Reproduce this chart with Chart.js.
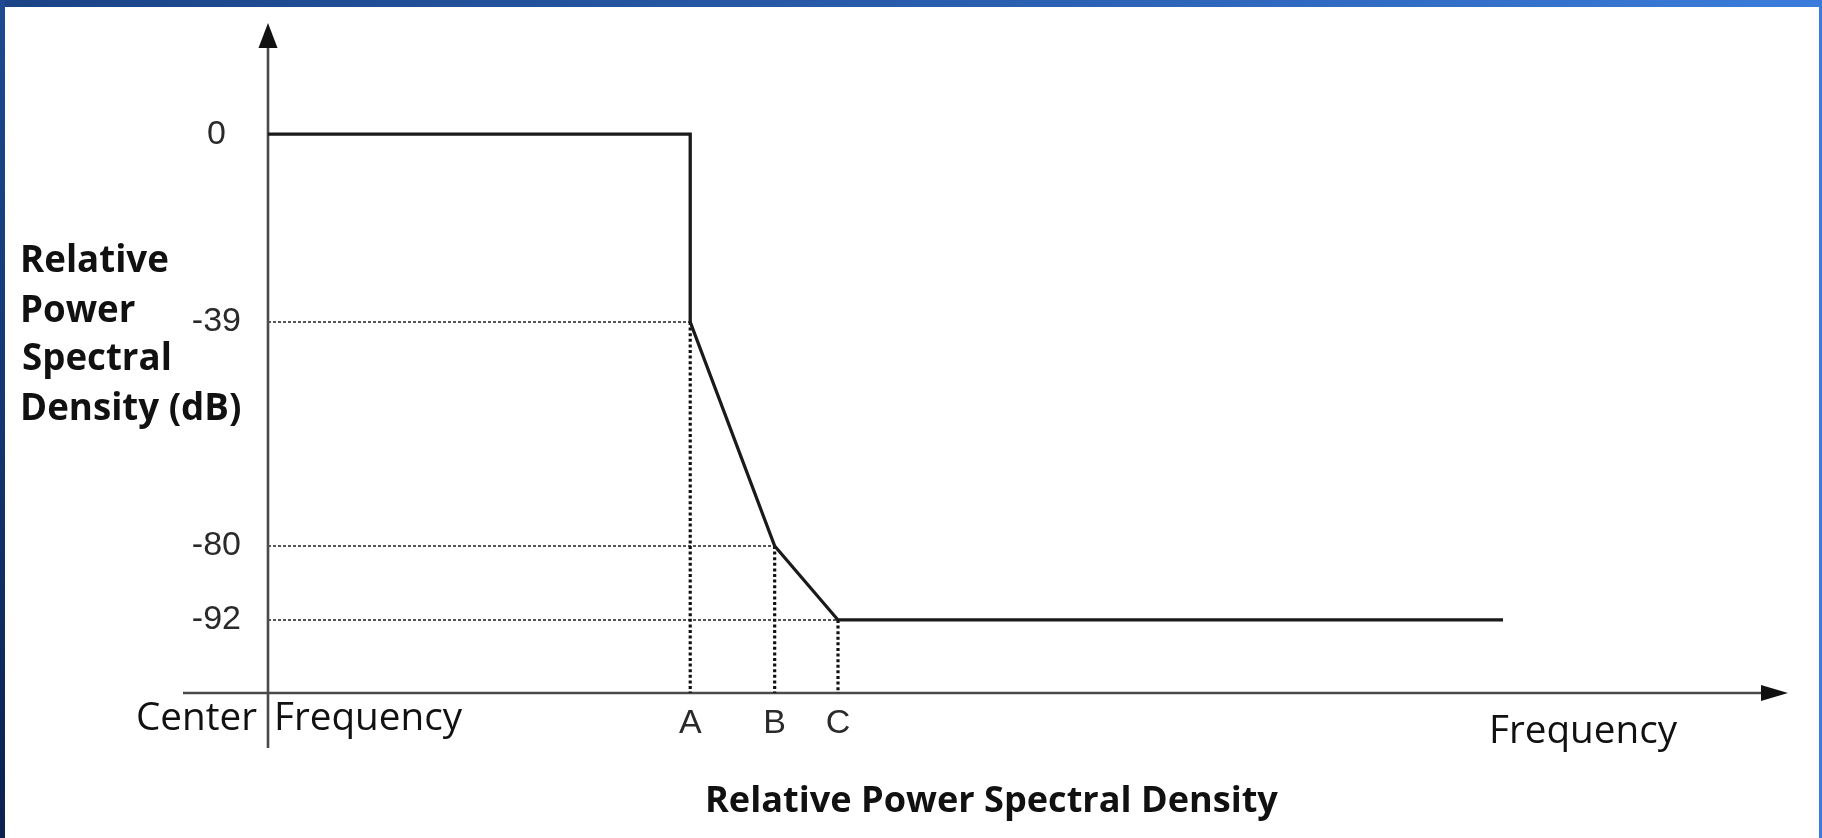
<!DOCTYPE html>
<html><head><meta charset="utf-8">
<script src="https://cdn.jsdelivr.net/npm/chart.js@4.4.1/dist/chart.umd.min.js"></script>
<style>
html,body{margin:0;padding:0;background:#fff;overflow:hidden}
#wrap{position:relative;width:1822px;height:838px;background:#fff}
#topband{position:absolute;left:0;top:0;width:1822px;height:7px;background:linear-gradient(90deg,#1b4386 0%,#2a5fb0 55%,#3b7cdb 100%)}
#leftband{position:absolute;left:0;top:0;width:5px;height:838px;background:linear-gradient(180deg,#1d4a92 0%,#0b2150 100%)}
#rightband{position:absolute;right:0;top:0;width:3px;height:838px;background:#3b7cdb}
canvas{position:absolute;left:0;top:0}
</style></head>
<body>
<div id="wrap"><div id="topband"></div><div id="leftband"></div><div id="rightband"></div>
<canvas id="c" width="1822" height="838" style="width:1822px;height:838px"></canvas></div>
<script>
// ---- data ----
const freqPoints = [0, 10, 10, 12, 13.5, 29.25];      // x (relative frequency units)
const levelDb    = [0, 0, -39, -80, -92, -92];        // relative PSD (dB)
const kneeFreq   = [10, 12, 13.5];                    // A, B, C
const kneeDb     = [-39, -80, -92];
const yTickValues = [0, -39, -80, -92];
const xTickValues = [10, 12, 13.5];
const xTickLabels = ['A', 'B', 'C'];
const yTitleLines = ['Relative', 'Power', 'Spectral', 'Density (dB)'];
const xTitle = 'Relative Power Spectral Density';
const originLabel = ['Center', 'Frequency'];
const xAxisName = 'Frequency';

const X_MIN = 0, X_MAX = 36, Y_MIN = -106, Y_MAX = 21;

// schematic (non-proportional) dB axis: piecewise-linear scale
class PiecewiseScale extends Chart.LinearScale {
  _frac(v) {
    const k = this.options.knots;
    if (v <= k[0][0]) return k[0][1];
    for (let i = 1; i < k.length; i++) {
      if (v <= k[i][0]) {
        const t = (v - k[i-1][0]) / (k[i][0] - k[i-1][0]);
        return k[i-1][1] + t * (k[i][1] - k[i-1][1]);
      }
    }
    return k[k.length-1][1];
  }
  getPixelForValue(v) {
    if (v === null || v === undefined || isNaN(v)) return NaN;
    return this.getPixelForDecimal(this._frac(v));
  }
  getValueForPixel(p) {
    const f = this.getDecimalForPixel(p);
    const k = this.options.knots;
    for (let i = 1; i < k.length; i++) {
      if (f <= k[i][1]) {
        const t = (f - k[i-1][1]) / (k[i][1] - k[i-1][1]);
        return k[i-1][0] + t * (k[i][0] - k[i-1][0]);
      }
    }
    return k[k.length-1][0];
  }
}
PiecewiseScale.id = 'piecewise';
PiecewiseScale.defaults = Chart.LinearScale.defaults;
Chart.register(PiecewiseScale);

const datasets = [{
  data: freqPoints.map((f, i) => ({x: f, y: levelDb[i]})),
  borderColor: '#1a1a1a', borderWidth: 3.3, pointRadius: 0, tension: 0, order: 0,
  borderJoinStyle: 'miter'
}];
kneeFreq.forEach((f, i) => {
  datasets.push({
    data: [{x: X_MIN, y: kneeDb[i]}, {x: f, y: kneeDb[i]}],
    borderColor: '#555555', borderWidth: 2, borderDash: [3, 2], pointRadius: 0, order: 2
  });
  datasets.push({
    data: [{x: f, y: kneeDb[i]}, {x: f, y: Y_MIN}],
    borderColor: '#111111', borderWidth: 3.2, borderDash: [3, 2.6], pointRadius: 0, order: 1
  });
});

function inkText(ctx, text, inkLeft, baseline) {
  const m = ctx.measureText(text);
  ctx.fillText(text, inkLeft + m.actualBoundingBoxLeft, baseline);
}
function fitSize(ctx, text, weight, family, target) {
  ctx.font = weight + ' 100px ' + family;
  const m = ctx.measureText(text);
  return 100 * target / (m.actualBoundingBoxLeft + m.actualBoundingBoxRight);
}
const SANS = '"Open Sans", "Noto Sans", sans-serif';

const decor = {
  id: 'decor',
  beforeDatasetsDraw(chart) {
    const {ctx, scales: {x, y}} = chart;
    const ox = x.getPixelForValue(0), oy = y.getPixelForValue(Y_MIN);
    const top = y.getPixelForValue(Y_MAX), right = x.getPixelForValue(X_MAX);
    ctx.save();
    ctx.strokeStyle = '#4a4a4a'; ctx.fillStyle = '#111';
    ctx.lineWidth = 2.6;
    ctx.beginPath();
    ctx.moveTo(ox, oy + 55); ctx.lineTo(ox, top + 20);
    ctx.moveTo(ox - 85, oy); ctx.lineTo(right - 22, oy);
    ctx.stroke();
    ctx.beginPath();
    ctx.moveTo(ox, top); ctx.lineTo(ox - 9.5, top + 25); ctx.lineTo(ox + 9.5, top + 25); ctx.closePath();
    ctx.fill();
    ctx.beginPath();
    ctx.moveTo(right, oy); ctx.lineTo(right - 27, oy - 8); ctx.lineTo(right - 27, oy + 8); ctx.closePath();
    ctx.fill();
    ctx.restore();
  },
  afterDraw(chart) {
    const {ctx} = chart;
    ctx.save();
    ctx.fillStyle = '#111';
    ctx.textAlign = 'left'; ctx.textBaseline = 'alphabetic';
    let s = fitSize(ctx, 'Frequency', 'normal', SANS, 185);
    ctx.font = 'normal ' + s.toFixed(2) + 'px ' + SANS;
    inkText(ctx, originLabel[0], 138, 730);
    inkText(ctx, originLabel[1], 277, 730);
    inkText(ctx, xAxisName, 1492, 743);
    s = fitSize(ctx, xTitle, 'bold', SANS, 570);
    ctx.font = 'bold ' + s.toFixed(2) + 'px ' + SANS;
    inkText(ctx, xTitle, 708, 812);
    s = fitSize(ctx, yTitleLines[3], 'bold', SANS, 217);
    ctx.font = 'bold ' + s.toFixed(2) + 'px ' + SANS;
    const bl = [272, 322, 370, 420];
    yTitleLines.forEach((t, i) => inkText(ctx, t, 23, bl[i]));
    ctx.restore();
  }
};

new Chart(document.getElementById('c'), {
  type: 'line',
  data: {datasets},
  options: {
    responsive: false, animation: false,
    layout: {autoPadding: false, padding: {left: 0, top: 23, right: 34, bottom: 0}},
    plugins: {legend: {display: false}, tooltip: {enabled: false}},
    scales: {
      x: {
        type: 'linear', min: X_MIN, max: X_MAX,
        grid: {display: false, drawTicks: false}, border: {display: false},
        afterBuildTicks: s => { s.ticks = xTickValues.map(v => ({value: v})); },
        afterFit: s => { s.height = 145; s.paddingLeft = 0; s.paddingRight = 0; s.paddingTop = 0; s.paddingBottom = 0; },
        ticks: {
          autoSkip: false, maxRotation: 0, padding: 10, color: '#2a2a2a',
          font: {family: '"Liberation Sans", Arial, sans-serif', size: 34},
          callback: (v, i) => xTickLabels[i]
        }
      },
      y: {
        type: 'piecewise', min: Y_MIN, max: Y_MAX,
        knots: [[-106, 0], [-92, 0.109], [-80, 0.2194], [-39, 0.5537], [0, 0.834], [21, 1]],
        grid: {display: false, drawTicks: false}, border: {display: false},
        afterBuildTicks: s => { s.ticks = yTickValues.map(v => ({value: v})); },
        afterFit: s => { s.width = 268; s.paddingTop = 0; s.paddingBottom = 0; s.paddingLeft = 0; s.paddingRight = 0; },
        ticks: {
          autoSkip: false, padding: 27, crossAlign: 'center', color: '#2a2a2a',
          font: {family: '"Liberation Sans", Arial, sans-serif', size: 34},
          callback: v => String(v)
        }
      }
    }
  },
  plugins: [decor]
});
</script>
</body></html>
